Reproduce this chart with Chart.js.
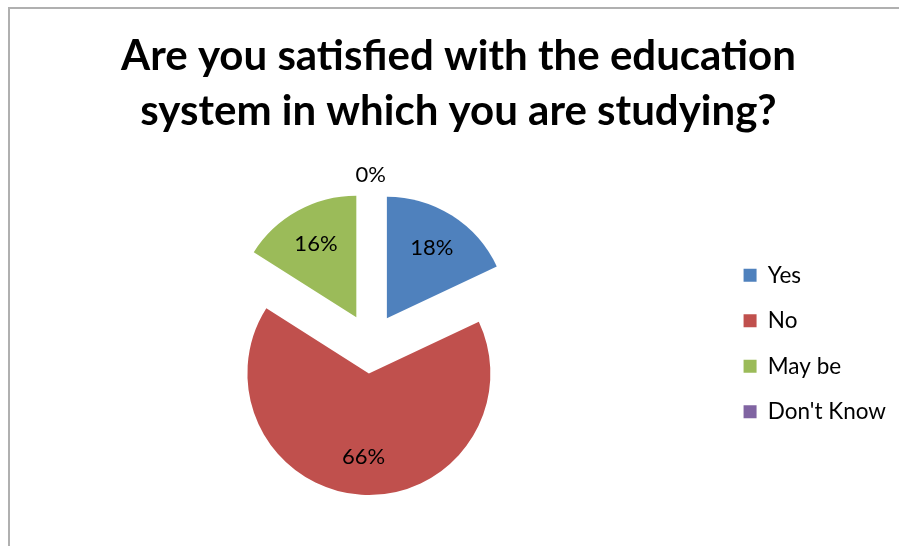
<!DOCTYPE html>
<html>
<head>
<meta charset="utf-8">
<script src="https://cdn.jsdelivr.net/npm/chart.js@4/dist/chart.umd.min.js"></script>
<style>
  html, body { margin: 0; padding: 0; background: #fff; overflow: hidden; }
  #chart { display: block; }
</style>
</head>
<body>
<canvas id="chart" width="899" height="546"></canvas>
<script>
const titleLines = ['Are you satisfied with the education', 'system in which you are studying?'];
const answers = ['Yes', 'No', 'May be', "Don't Know"];
const shares = [18, 66, 16, 0];
const sliceColors = ['#4F81BD', '#C0504D', '#9BBB59', '#8064A2'];

const EXPLODE = 30;

// thin grey frame along the top and left edges
const framePlugin = {
  id: 'frame',
  beforeDraw(chart) {
    const ctx = chart.ctx;
    ctx.save();
    ctx.strokeStyle = '#b0b0b0';
    ctx.lineWidth = 2;
    ctx.beginPath();
    ctx.moveTo(9, chart.height);
    ctx.lineTo(9, 8);
    ctx.lineTo(chart.width, 8);
    ctx.stroke();
    ctx.restore();
  }
};

// pull every slice out from the centre along its mid angle
const explodePlugin = {
  id: 'explode',
  afterDatasetsUpdate(chart) {
    chart.getDatasetMeta(0).data.forEach((arc) => {
      const mid = (arc.startAngle + arc.endAngle) / 2;
      arc.x += Math.cos(mid) * EXPLODE;
      arc.y += Math.sin(mid) * EXPLODE;
    });
  }
};

// percentage labels inside the slices, empty slices get theirs just outside
const sliceLabels = {
  id: 'sliceLabels',
  afterDatasetsDraw(chart) {
    const ctx = chart.ctx;
    const values = chart.data.datasets[0].data;
    ctx.save();
    ctx.font = '22px Lato';
    ctx.fillStyle = '#000';
    ctx.textAlign = 'center';
    ctx.textBaseline = 'middle';
    chart.getDatasetMeta(0).data.forEach((arc, i) => {
      const mid = (arc.startAngle + arc.endAngle) / 2;
      const r = values[i] === 0 ? arc.outerRadius + 17 : arc.outerRadius * 0.69;
      ctx.fillText(values[i] + '%', arc.x + Math.cos(mid) * r, arc.y + Math.sin(mid) * r);
    });
    ctx.restore();
  }
};

new Chart(document.getElementById('chart'), {
  type: 'pie',
  data: {
    labels: answers,
    datasets: [{
      data: shares,
      backgroundColor: sliceColors,
      borderWidth: 0
    }]
  },
  options: {
    responsive: false,
    animation: false,
    events: [],
    layout: { padding: { top: 10, bottom: 81, left: 21, right: 3 } },
    plugins: {
      title: {
        display: true,
        text: titleLines,
        color: '#000',
        font: { family: 'Lato', size: 42, weight: 'bold', lineHeight: 1.31 },
        padding: { top: 19, bottom: 83 }
      },
      legend: {
        position: 'right',
        fullSize: false,
        labels: {
          color: '#000',
          boxWidth: 13,
          boxHeight: 13,
          padding: 23,
          font: { family: 'Lato', size: 22.5, lineHeight: 1.2 }
        }
      },
      tooltip: { enabled: false }
    }
  },
  plugins: [framePlugin, explodePlugin, sliceLabels]
});
</script>
</body>
</html>
